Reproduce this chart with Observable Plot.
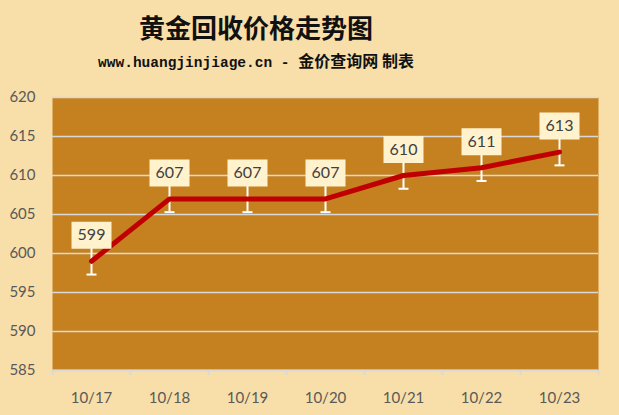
<!DOCTYPE html>
<html>
<head>
<meta charset="utf-8">
<script src="https://cdn.jsdelivr.net/npm/d3@7"></script>
<script src="https://cdn.jsdelivr.net/npm/@observablehq/plot@0.6"></script>
<style>
  html, body { margin: 0; padding: 0; background: #F8DEA8; width: 619px; height: 415px; overflow: hidden; }
  #head { position: relative; width: 619px; height: 80px; }
  #title { position: absolute; left: 0; width: 512px; top: 8px; text-align: center;
           font-family: "Noto Sans CJK SC", sans-serif; font-weight: bold; font-size: 26px; line-height: 38px; color: #111; }
  #subtitle { position: absolute; left: 0; width: 512px; top: 48px; text-align: center;
           font-weight: bold; line-height: 24px; color: #111; white-space: nowrap; }
  #subtitle .lat { font-family: "Liberation Mono", monospace; font-size: 14.5px; }
  #subtitle .cjk { font-family: "Noto Sans CJK SC", sans-serif; font-size: 16px; }
</style>
</head>
<body>
<div id="head">
  <div id="title">黄金回收价格走势图</div>
  <div id="subtitle"><span class="lat">www.huangjinjiage.cn - </span><span class="cjk">金价查询网 制表</span></div>
</div>
<div id="chart"></div>
<script>
const dates = ["10/17", "10/18", "10/19", "10/20", "10/21", "10/22", "10/23"];
const prices = [599, 607, 607, 607, 610, 611, 613];
const errorBar = 1.7;
const yTicks = [585, 590, 595, 600, 605, 610, 615, 620];

const data = dates.map((d, i) => ({i, date: d, price: prices[i]}));
const centers = dates.map((d, i) => i);
const bounds = d3.range(dates.length + 1).map(i => i - 0.5);

const capSymbol = { draw(ctx) { ctx.moveTo(-5, 0); ctx.lineTo(5, 0); } };
const boxSymbol = { draw(ctx) { ctx.rect(-20, -13.5, 40, 27); } };

const chart = Plot.plot({
  width: 619,
  height: 335,
  marginTop: 17,
  marginBottom: 45,
  marginLeft: 52,
  marginRight: 21,
  style: {background: "transparent", fontFamily: "Lato, 'Open Sans', sans-serif", fontSize: "15px", color: "#595959"},
  x: {type: "linear", domain: [-0.5, dates.length - 0.5]},
  y: {domain: [585, 620]},
  marks: [
    Plot.frame({fill: "#C58020", stroke: null}),
    Plot.gridY(yTicks, {stroke: "#D9D9D9", strokeOpacity: 1, strokeWidth: 1.5}),
    Plot.axisY(yTicks, {tickSize: 0, tickPadding: 17, label: null, fontSize: 15}),
    Plot.axisX(bounds, {tickSize: 5, tickFormat: () => "", stroke: "#D9D9D9", strokeWidth: 2, label: null}),
    Plot.axisX(centers, {tickSize: 0, tickPadding: 22, tickFormat: i => dates[i], label: null, fontSize: 15}),
    Plot.ruleY([585], {stroke: "#D9D9D9", strokeWidth: 2}),
    Plot.ruleX(data, {x: "i", y1: d => d.price - errorBar, y2: d => d.price + errorBar, stroke: "white", strokeWidth: 2}),
    Plot.dot(data, {x: "i", y: d => d.price - errorBar, symbol: capSymbol, stroke: "white", strokeWidth: 2, fill: null}),
    Plot.line(data, {x: "i", y: "price", stroke: "#C00000", strokeWidth: 5}),
    Plot.dot(data, {x: "i", y: "price", symbol: boxSymbol, fill: "#FFF2CC", stroke: null, dy: -26}),
    Plot.text(data, {x: "i", y: "price", text: d => String(d.price), dy: -26, fill: "#404040", fontSize: 16})
  ]
});
document.getElementById("chart").appendChild(chart);
</script>
</body>
</html>
